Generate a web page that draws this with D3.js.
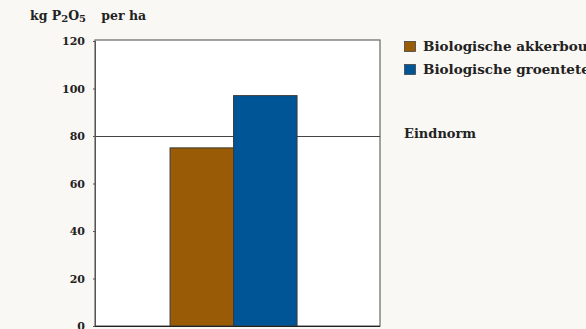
<!DOCTYPE html>
<html><head><meta charset="utf-8">
<script src="https://cdn.jsdelivr.net/npm/d3@7"></script>
<style>
html,body{margin:0;padding:0;background:#faf8f4;overflow:hidden;}
text{font-family:"DejaVu Serif",serif;font-weight:bold;fill:#222;}
</style></head>
<body>
<svg id="c" width="586" height="329"></svg>
<script>
const categories = ["Fosfaat"];
const series = ["Biologische akkerbouw", "Biologische groenteteelt"];
const values = [75, 97];
const colors = ["#9a5b07", "#005596"];
const yTicks = [0, 20, 40, 60, 80, 100, 120];
const normValue = 80;
const normLabel = "Eindnorm";

const svg = d3.select("#c");
const mLeft = 95, mRight = 380, mTop = 41, mBottom = 326;

const y = d3.scaleLinear().domain([0, 120]).range([mBottom, mTop]);
const x0 = d3.scaleBand().domain(categories).range([mLeft, mRight])
  .paddingInner(0).paddingOuter(0.622).align(0.475);
const x1 = d3.scaleBand().domain(series).range([0, x0.bandwidth()]).padding(0);

// plot area
svg.append("rect").attr("x", mLeft).attr("y", mTop - 1).attr("width", mRight - mLeft).attr("height", mBottom - mTop + 1)
  .attr("fill", "#ffffff").attr("stroke", "#666").attr("stroke-width", 1.2);

// norm line
svg.append("line").attr("x1", mLeft).attr("x2", mRight)
  .attr("y1", Math.round(y(normValue)) + 0.5).attr("y2", Math.round(y(normValue)) + 0.5)
  .attr("stroke", "#444").attr("stroke-width", 1);

// bars
const g = svg.append("g");
categories.forEach(cat => {
  g.selectAll("rect.b").data(series).enter().append("rect")
    .attr("x", s => x0(cat) + x1(s))
    .attr("y", (s, i) => y(values[i]))
    .attr("width", x1.bandwidth())
    .attr("height", (s, i) => y(0) - y(values[i]))
    .attr("fill", (s, i) => colors[i])
    .attr("stroke", "#3a3a3a").attr("stroke-width", 1);
});

// y axis
const ax = svg.append("g").attr("transform", `translate(${mLeft},0)`)
  .call(d3.axisLeft(y).tickValues(yTicks).tickSize(2).tickPadding(8).tickFormat(d3.format("d")));
ax.select(".domain").attr("stroke", "#555");
ax.selectAll(".tick line").attr("stroke", "#555");
ax.selectAll(".tick text").style("font-size", "11px").attr("fill", "#222");

// bottom line
svg.append("line").attr("x1", mLeft).attr("x2", mRight).attr("y1", mBottom + 0.5).attr("y2", mBottom + 0.5)
  .attr("stroke", "#222").attr("stroke-width", 1.2);

// title
const t = svg.append("text").attr("x", 30).attr("y", 20).style("font-size", "12.5px");
t.append("tspan").text("kg P");
t.append("tspan").text("2").attr("dy", 2).style("font-size", "10px");
t.append("tspan").text("O").attr("dy", -2);
t.append("tspan").text("5").attr("dy", 2).style("font-size", "10px");
t.append("tspan").text(" per ha").attr("dy", -2).attr("x", 97);

// legend
const lg = svg.append("g");
series.forEach((s, i) => {
  lg.append("rect").attr("x", 404.5).attr("y", 41.5 + i * 23).attr("width", 11).attr("height", 10)
    .attr("fill", colors[i]).attr("stroke", "#444").attr("stroke-width", 0.8);
  lg.append("text").attr("x", 423).attr("y", 51 + i * 23).style("font-size", "13.5px").text(s);
});
svg.append("text").attr("x", 404).attr("y", 138).style("font-size", "13px").text(normLabel);
</script>
</body></html>
